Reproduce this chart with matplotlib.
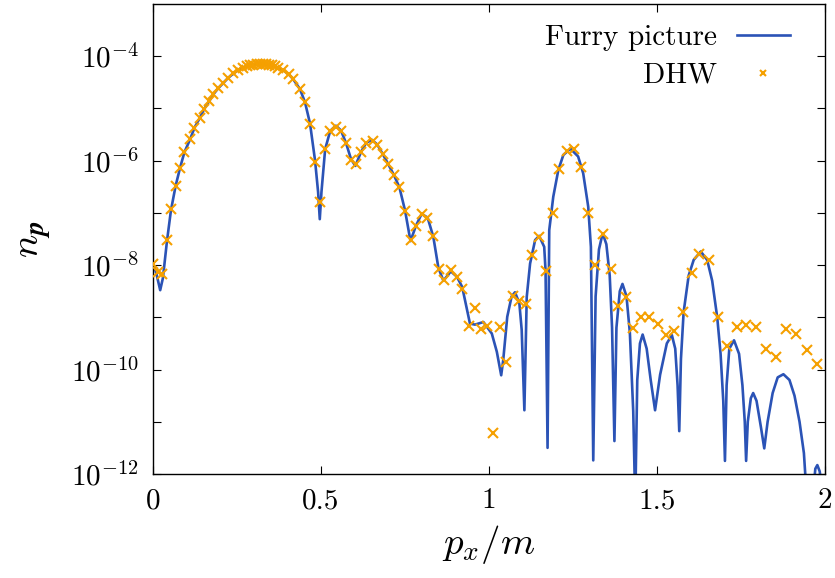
import numpy as np
import matplotlib
matplotlib.use("Agg")
import matplotlib.pyplot as plt

plt.rcParams["font.family"] = "serif"
plt.rcParams["font.serif"] = ["cmr10"]
plt.rcParams["mathtext.fontset"] = "cm"
plt.rcParams["axes.formatter.use_mathtext"] = True
plt.rcParams["axes.unicode_minus"] = False

# Furry picture, x = p_x/m, log10(n_p)
furry_x = [0.005, 0.012, 0.022, 0.03, 0.042, 0.054, 0.068, 0.081, 0.094, 0.111, 0.124,
           0.139, 0.153, 0.168, 0.18, 0.195, 0.21, 0.225, 0.24, 0.255, 0.27, 0.29, 0.31,
           0.33, 0.35, 0.374, 0.389, 0.404, 0.418, 0.438, 0.453, 0.468, 0.483, 0.492,
           0.497, 0.502, 0.513, 0.528, 0.545, 0.56, 0.575, 0.59, 0.603, 0.62, 0.635,
           0.652, 0.668, 0.685, 0.701, 0.718, 0.734, 0.751, 0.767, 0.783, 0.8, 0.818,
           0.835, 0.85, 0.865, 0.887, 0.905, 0.921, 0.944, 0.959, 0.984, 1.009, 1.024,
           1.037, 1.043, 1.055, 1.068, 1.078, 1.091, 1.098, 1.106, 1.113, 1.123, 1.138,
           1.15, 1.165, 1.169, 1.175, 1.18, 1.192, 1.207, 1.222, 1.243, 1.266, 1.281,
           1.296, 1.304, 1.311, 1.318, 1.328, 1.339, 1.35, 1.36, 1.367, 1.374, 1.38,
           1.39, 1.398, 1.41, 1.42, 1.43, 1.436, 1.442, 1.45, 1.458, 1.47, 1.482, 1.495,
           1.51, 1.53, 1.545, 1.555, 1.562, 1.567, 1.572, 1.58, 1.595, 1.61, 1.631,
           1.65, 1.665, 1.68, 1.69, 1.698, 1.703, 1.708, 1.716, 1.73, 1.745, 1.755,
           1.762, 1.766, 1.771, 1.78, 1.787, 1.797, 1.81, 1.82, 1.83, 1.845, 1.86,
           1.877, 1.895, 1.91, 1.925, 1.938, 1.948, 1.962, 1.972, 1.978, 1.985, 1.995]
furry_log = [-8.03, -8.2, -8.48, -8.25, -7.55, -6.95, -6.48, -6.14, -5.84, -5.59, -5.37,
             -5.19, -5.01, -4.86, -4.73, -4.61, -4.51, -4.41, -4.33, -4.26, -4.21, -4.17, -4.15,
             -4.15, -4.17, -4.23, -4.27, -4.34, -4.44, -4.63, -4.88, -5.29, -6.0, -6.6,
             -7.12, -6.6, -5.78, -5.43, -5.33, -5.42, -5.66, -5.97, -6.1, -5.83, -5.66,
             -5.6, -5.69, -5.88, -6.07, -6.28, -6.51, -6.96, -7.54, -7.25, -7.02, -7.09,
             -7.46, -8.05, -8.3, -8.12, -8.22, -8.42, -9.12, -9.14, -9.09, -9.31, -9.66,
             -10.11, -9.82, -8.99, -8.6, -8.52, -8.73, -9.24, -10.78, -8.61, -7.97, -7.52,
             -7.44, -7.65, -8.1, -11.5, -7.33, -6.69, -6.18, -5.89, -5.77, -5.92, -6.24,
             -6.88, -7.65, -11.74, -8.6, -7.7, -7.39, -7.6, -8.2, -9.2, -11.37, -9.2,
             -8.5, -8.36, -8.6, -9.3, -10.8, -12.6, -10.2, -9.5, -9.33, -9.6, -10.2, -10.78,
             -10.1, -9.5, -9.34, -9.6, -10.3, -11.18, -9.8, -8.9, -8.2, -7.9, -7.74,
             -7.9, -8.3, -9.0, -9.7, -10.6, -11.75, -10.3, -9.6, -9.44, -9.7, -10.3,
             -11.0, -11.75, -11.0, -10.55, -10.45, -10.6, -11.1, -11.51, -11.0, -10.45, -10.15,
             -10.09, -10.2, -10.5, -11.0, -11.6, -12.6, -12.6, -11.9, -11.83, -11.95, -12.4]

# DHW points, x = p_x/m, log10(n_p)
dhw_x = [0.0, 0.015, 0.027, 0.042, 0.054, 0.068, 0.081, 0.094, 0.111, 0.124, 0.139,
         0.153, 0.168, 0.18, 0.195, 0.21, 0.225, 0.24, 0.255, 0.268, 0.279, 0.289,
         0.299, 0.309, 0.318, 0.327, 0.336, 0.345, 0.354, 0.364, 0.374, 0.389, 0.404,
         0.418, 0.438, 0.453, 0.468, 0.483, 0.498, 0.513, 0.528, 0.545, 0.56, 0.575,
         0.59, 0.605, 0.62, 0.635, 0.655, 0.668, 0.685, 0.701, 0.718, 0.734, 0.751,
         0.768, 0.783, 0.8, 0.817, 0.835, 0.853, 0.868, 0.887, 0.905, 0.921, 0.941,
         0.959, 0.977, 0.994, 1.014, 1.032, 1.051, 1.071, 1.091, 1.111, 1.13, 1.15,
         1.17, 1.19, 1.21, 1.232, 1.254, 1.275, 1.296, 1.316, 1.339, 1.363, 1.386,
         1.409, 1.43, 1.453, 1.478, 1.503, 1.528, 1.552, 1.579, 1.604, 1.627, 1.657,
         1.682, 1.71, 1.738, 1.765, 1.796, 1.824, 1.854, 1.884, 1.915, 1.946, 1.976]
dhw_log = [-7.98, -8.13, -8.17, -7.52, -6.93, -6.48, -6.14, -5.84, -5.59, -5.37, -5.19,
           -5.01, -4.86, -4.73, -4.61, -4.51, -4.41, -4.33, -4.26, -4.22, -4.19, -4.17,
           -4.16, -4.15, -4.15, -4.15, -4.15, -4.16, -4.17, -4.19, -4.23, -4.26, -4.34,
           -4.44, -4.63, -4.88, -5.29, -6.03, -6.8, -5.77, -5.43, -5.35, -5.43, -5.67,
           -5.99, -6.07, -5.83, -5.66, -5.62, -5.7, -5.88, -6.07, -6.28, -6.51, -6.96,
           -7.51, -7.25, -7.02, -7.1, -7.45, -8.08, -8.29, -8.1, -8.22, -8.45, -9.16,
           -8.82, -9.23, -9.17, -11.22, -9.19, -9.86, -8.59, -8.68, -8.75, -7.8, -7.46,
           -8.11, -7.0, -6.16, -5.81, -5.78, -6.12, -7.0, -8.0, -7.41, -8.08, -8.79,
           -8.62, -9.2, -9.0, -9.0, -9.13, -9.34, -9.26, -8.89, -8.16, -7.78, -7.9,
           -9.0, -9.55, -9.19, -9.14, -9.18, -9.6, -9.76, -9.23, -9.31, -9.63, -9.9]

fig = plt.figure(figsize=(8.35, 5.78), dpi=100)
ax = fig.add_axes([0.183, 0.18, 0.8047, 0.813])

ax.plot(furry_x, 10.0 ** np.array(furry_log), color="#2b53b6", lw=1.9,
        label="Furry picture", zorder=2)
ax.plot(dhw_x, 10.0 ** np.array(dhw_log), ls="none", marker="x", ms=6.5, mew=1.5,
        color="#f5a000", label="DHW", zorder=3)

ax.set_yscale("log")
ax.set_xlim(0, 2)
ax.set_ylim(1e-12, 1e-3)
ax.set_xticks([0, 0.5, 1, 1.5, 2])
ax.set_xticklabels(["0", "0.5", "1", "1.5", "2"])
yt = [10.0 ** k for k in range(-12, -3)]
ax.set_yticks(yt)
ax.set_yticklabels([r"$10^{%d}$" % k if k % 2 == 0 else "" for k in range(-12, -3)])
ax.minorticks_off()
ax.tick_params(direction="in", length=6, width=0.8, top=True, right=True,
               labelsize=21, pad=10)
for s in ax.spines.values():
    s.set_linewidth(1.0)

ax.set_xlabel(r"$p_x/m$", fontsize=28, labelpad=6)
ax.set_ylabel(r"$n_{\mathbfit{p}}$", fontsize=28, labelpad=12)

ax.legend(loc="upper right", frameon=False, markerfirst=False, fontsize=21,
          handlelength=1.8, markerscale=0.7, bbox_to_anchor=(0.978, 1.0),
          labelspacing=0.4, handletextpad=0.7, borderaxespad=0.3)

fig.savefig("out.png", dpi=100)
